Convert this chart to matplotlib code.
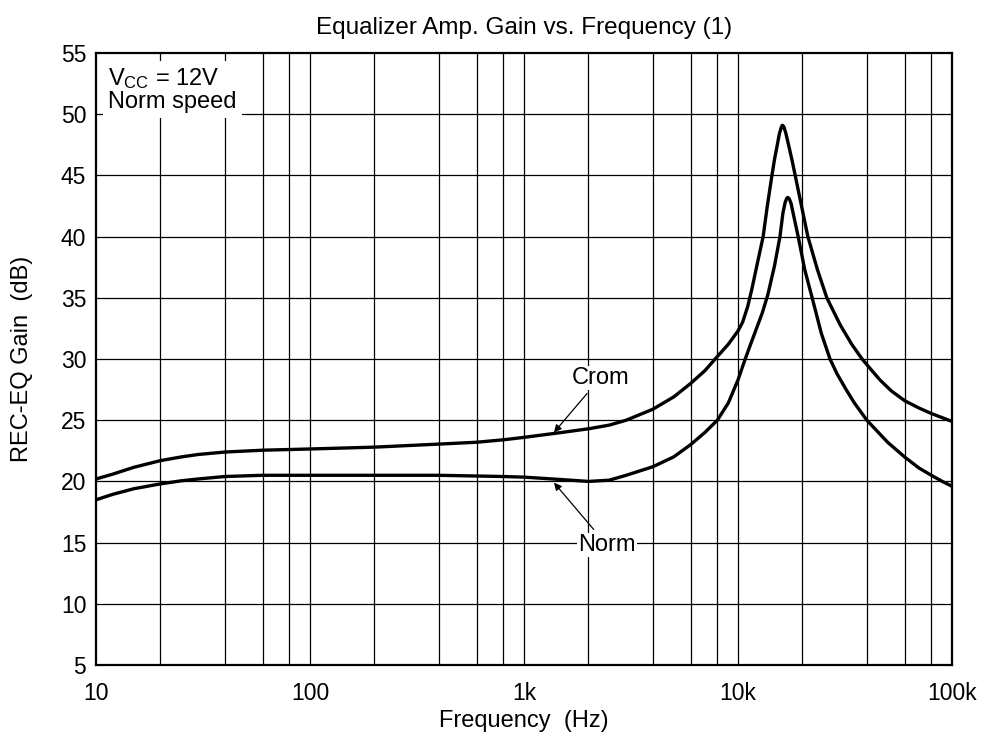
import numpy as np
import matplotlib
matplotlib.use("Agg")
import matplotlib.pyplot as plt

plt.rcParams['font.family'] = ['Liberation Sans', 'DejaVu Sans']

# values (frequency in Hz, gain in dB)
crom_freq = [10, 12, 15, 20, 25, 30, 40, 60, 100, 200, 400, 600, 800, 1000, 1500,
             2000, 2500, 3000, 4000, 5000, 6000, 7000, 8000, 9000, 10000, 10500,
             11100, 11600, 12200, 13100, 13700, 14400, 14800, 15200, 15600, 15900,
             16100, 16350, 16700, 17300, 17900, 18500, 19800, 21200, 23500, 26000,
             30000, 34000, 38000, 42000, 46000, 52000, 60000, 70000, 80000, 100000]
crom_gain = [20.2, 20.6, 21.15, 21.7, 22.0, 22.2, 22.4, 22.55, 22.65, 22.8, 23.05, 23.2,
             23.4, 23.6, 24.0, 24.3, 24.6, 25.0, 25.9, 26.9, 28.0, 29.05, 30.2, 31.2,
             32.3, 33.0, 34.3, 35.7, 37.5, 40.0, 42.5, 45.0, 46.3, 47.35, 48.4, 48.9,
             49.1, 49.0, 48.5, 47.35, 46.2, 45.0, 42.5, 40.0, 37.3, 35.0, 32.8, 31.2,
             30.0, 29.1, 28.3, 27.4, 26.6, 26.0, 25.55, 24.9]

norm_freq = [10, 12, 15, 20, 25, 30, 40, 60, 100, 400, 800, 1000, 1500, 2000, 2500,
             3000, 4000, 5000, 6000, 7000, 8000, 9000, 10000, 10800, 11500, 12200,
             13000, 13800, 14800, 15700, 16200, 16600, 16900, 17100, 17350, 17700,
             18100, 19100, 20500, 22200, 24500, 26900, 29000, 32000, 35000, 40000,
             50000, 60000, 70000, 80000, 90000, 100000]
norm_gain = [18.5, 18.95, 19.4, 19.8, 20.05, 20.2, 20.4, 20.5, 20.5, 20.5, 20.4, 20.35,
             20.15, 20.0, 20.1, 20.5, 21.2, 22.0, 23.0, 24.0, 25.0, 26.4, 28.3, 30.0,
             31.3, 32.5, 33.8, 35.3, 37.6, 40.0, 41.9, 42.8, 43.15, 43.2, 43.1, 42.7,
             41.9, 40.0, 37.3, 35.0, 32.1, 30.0, 28.8, 27.5, 26.4, 25.0, 23.2, 22.0,
             21.1, 20.5, 20.0, 19.6]

x_ticks = [10, 100, 1000, 10000, 100000]
x_ticklabels = ['10', '100', '1k', '10k', '100k']
y_ticks = list(range(5, 56, 5))

fig = plt.figure(figsize=(9.88, 7.37), dpi=100)
ax = fig.add_axes([0.0972, 0.0977, 0.8664, 0.8303])

ax.set_xscale('log')
ax.set_xlim(10, 100000)
ax.set_ylim(5, 55)

# grid: decades plus 2,4,6,8 multiples
grid_x = []
for dec in [10, 100, 1000, 10000]:
    for m in [1, 2, 4, 6, 8]:
        grid_x.append(dec * m)
for gx in grid_x[1:]:
    ax.axvline(gx, color='black', lw=0.9, zorder=1)
for gy in y_ticks[1:-1]:
    ax.axhline(gy, color='black', lw=0.9, zorder=1)

for f, g in [(crom_freq, crom_gain), (norm_freq, norm_gain)]:
    ax.plot(f, g, color='black', lw=2.4, zorder=3,
            solid_joinstyle='round', solid_capstyle='butt')

ax.set_xticks(x_ticks)
ax.set_xticklabels(x_ticklabels)
ax.xaxis.set_minor_locator(matplotlib.ticker.NullLocator())
ax.set_yticks(y_ticks)
ax.tick_params(length=0, labelsize=16.5)
ax.tick_params(axis='x', pad=12)
ax.tick_params(axis='y', pad=7)
for s in ax.spines.values():
    s.set_linewidth(1.6)

ax.set_xlabel('Frequency  (Hz)', fontsize=17, labelpad=4)
ax.set_ylabel('REC-EQ Gain  (dB)', fontsize=17, labelpad=20)
ax.set_title('Equalizer Amp. Gain vs. Frequency (1)', fontsize=17.5, pad=14)

ax.text(11.4, 53.9, '$\\mathregular{V_{CC}}$ = 12V\nNorm speed', fontsize=17,
        va='top', ha='left', linespacing=1.0, zorder=4,
        bbox=dict(facecolor='white', edgecolor='none', pad=3.5))

ax.annotate('Crom', xy=(1380, 24.0), xytext=(2270, 28.45), fontsize=17,
            ha='center', va='center', zorder=4,
            bbox=dict(facecolor='white', edgecolor='none', pad=1),
            arrowprops=dict(arrowstyle='-|>', color='black', lw=0.9,
                            mutation_scale=11, shrinkA=3, shrinkB=0))
ax.annotate('Norm', xy=(1380, 19.9), xytext=(2440, 14.8), fontsize=17,
            ha='center', va='center', zorder=4,
            bbox=dict(facecolor='white', edgecolor='none', pad=1),
            arrowprops=dict(arrowstyle='-|>', color='black', lw=0.9,
                            mutation_scale=11, shrinkA=3, shrinkB=0))

fig.savefig('out.png', dpi=100)
